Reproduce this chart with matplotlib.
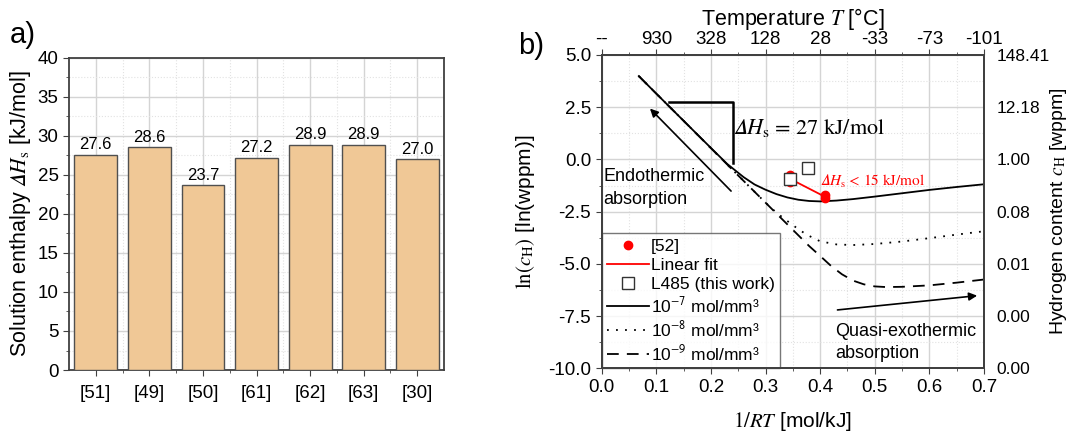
import matplotlib.pyplot as plt
from matplotlib.ticker import MultipleLocator

plt.rcParams['font.family'] = ['Liberation Sans', 'DejaVu Sans']
plt.rcParams['mathtext.fontset'] = 'stix'
plt.rcParams['axes.unicode_minus'] = False

# a) solution enthalpy from literature
refs = ['[51]', '[49]', '[50]', '[61]', '[62]', '[63]', '[30]']
dHs = [27.6, 28.6, 23.7, 27.2, 28.9, 28.9, 27.0]

# b) ln(c_H) vs 1/RT for three trap densities
x_e7 = [0.068, 0.10, 0.15, 0.20, 0.23, 0.26, 0.28, 0.30, 0.32, 0.34, 0.36, 0.38, 0.40,
        0.43, 0.46, 0.50, 0.55, 0.60, 0.65, 0.70]
y_e7 = [3.99, 3.15, 1.85, 0.55, -0.22, -0.85, -1.20, -1.45, -1.66, -1.82, -1.93, -1.99, -2.01,
        -1.97, -1.90, -1.78, -1.62, -1.46, -1.32, -1.19]
x_e8 = [0.068, 0.10, 0.15, 0.20, 0.25, 0.30, 0.32, 0.35, 0.375, 0.40, 0.43, 0.46, 0.50,
        0.55, 0.60, 0.65, 0.70]
y_e8 = [3.99, 3.15, 1.85, 0.54, -0.77, -2.07, -2.55, -3.15, -3.60, -3.92, -4.07, -4.10, -4.05,
        -3.93, -3.77, -3.60, -3.44]
x_e9 = [0.068, 0.10, 0.15, 0.20, 0.25, 0.30, 0.35, 0.38, 0.40, 0.42, 0.44, 0.46, 0.48, 0.50,
        0.52, 0.55, 0.60, 0.65, 0.70]
y_e9 = [3.99, 3.15, 1.85, 0.54, -0.77, -2.07, -3.37, -4.15, -4.62, -5.10, -5.50, -5.80, -5.98,
        -6.08, -6.11, -6.10, -6.03, -5.90, -5.75]

# [52] data, linear fit, own measurement
x_52 = [0.345, 0.345, 0.409, 0.409]
y_52 = [-0.75, -1.10, -1.72, -1.85]
x_fit = [0.345, 0.409]
y_fit = [-0.93, -1.79]
x_l485 = [0.345, 0.378]
y_l485 = [-0.94, -0.42]

top_pos = [0.0, 0.1, 0.2, 0.3, 0.4, 0.5, 0.6, 0.7]
top_labels = ['--', '930', '328', '128', '28', '-33', '-73', '-101']
right_pos = [5.0, 2.5, 0.0, -2.5, -5.0, -7.5, -10.0]
right_labels = ['148.41', '12.18', '1.00', '0.08', '0.01', '0.00', '0.00']

# italic Delta (math italic capital delta)
DH = '$\\mathit{' + '\U0001D6E5' + 'H}_\\mathrm{s}$'

fig = plt.figure(figsize=(10.7, 4.32), dpi=100)
axa = fig.add_axes([0.0645, 0.1435, 0.3505, 0.7225])
axb = fig.add_axes([0.5623, 0.1475, 0.3573, 0.7252])

spine_c = '#404040'

# ---------- panel a
pos = list(range(len(refs)))
axa.bar(pos, dHs, width=0.8, color='#F0C896', edgecolor='#505050', linewidth=1, zorder=3)
for p, v in zip(pos, dHs):
    axa.text(p, v + 0.3, f'{v:.1f}', ha='center', va='bottom', fontsize=12, zorder=4)
axa.set_xlim(-0.5, 6.5)
axa.set_ylim(0, 40)
axa.set_xticks(pos)
axa.set_xticklabels(refs)
axa.set_xticks([p + 0.5 for p in pos[:-1]], minor=True)
axa.yaxis.set_major_locator(MultipleLocator(5))
axa.yaxis.set_minor_locator(MultipleLocator(2.5))
axa.grid(which='major', color='#d4d4d4', linewidth=1, zorder=0)
axa.grid(which='minor', color='#e2e2e2', linewidth=0.8, linestyle=':', zorder=0)
axa.set_axisbelow(True)
axa.tick_params(which='both', direction='out', labelsize=13.5, color=spine_c)
axa.tick_params(which='major', length=4)
axa.tick_params(which='minor', length=2.5)
axa.tick_params(axis='x', pad=7)
axa.set_ylabel('Solution enthalpy ' + DH + ' [kJ/mol]', fontsize=15.5, labelpad=3)
for s in axa.spines.values():
    s.set_color(spine_c)
    s.set_linewidth(1.3)
fig.text(0.009, 0.9, 'a)', fontsize=21)

# ---------- panel b
l7, = axb.plot(x_e7, y_e7, color='black', lw=1.3, label=r'10$^{\mathsf{-7}}$ mol/mm³', zorder=4)
l8, = axb.plot(x_e8, y_e8, color='black', lw=1.3, ls=(0, (1, 4)), label=r'10$^{\mathsf{-8}}$ mol/mm³', zorder=3)
l9, = axb.plot(x_e9, y_e9, color='black', lw=1.3, ls=(0, (6.5, 4.5)), label=r'10$^{\mathsf{-9}}$ mol/mm³', zorder=3)
lfit, = axb.plot(x_fit, y_fit, color='red', lw=1.3, label='Linear fit', zorder=5)
p52, = axb.plot(x_52, y_52, 'o', color='red', ms=6, ls='none', label='[52]', zorder=6)
psq, = axb.plot(x_l485, y_l485, 's', mfc='white', mec='#333333', mew=1, ms=8, ls='none',
                label='L485 (this work)', zorder=7)

# slope bracket
axb.plot([0.1234, 0.2405, 0.2405], [2.74, 2.74, -0.17], color='black', lw=1.8, zorder=4)
axb.text(0.2405, 1.5, DH + ' = 27 kJ/mol', fontsize=16,
         family='STIXGeneral', va='center', ha='left')
axb.annotate('', xy=(0.0849, 2.53), xytext=(0.2405, -1.61),
             arrowprops=dict(arrowstyle='-|>', color='black', lw=1.2, mutation_scale=12))
axb.text(0.003, -0.8, 'Endothermic', fontsize=13, va='center')
axb.text(0.003, -1.9, 'absorption', fontsize=13, va='center')
axb.text(0.40, -1.05, DH + ' < 15 kJ/mol', fontsize=11, color='red',
         family='STIXGeneral', va='center')
axb.annotate('', xy=(0.6926, -6.51), xytext=(0.4267, -7.22),
             arrowprops=dict(arrowstyle='-|>', color='black', lw=1.2, mutation_scale=12))
axb.text(0.427, -8.22, 'Quasi-exothermic', fontsize=13, va='center')
axb.text(0.427, -9.3, 'absorption', fontsize=13, va='center')

axb.set_xlim(0, 0.7)
axb.set_ylim(-10, 5)
axb.xaxis.set_major_locator(MultipleLocator(0.1))
axb.xaxis.set_minor_locator(MultipleLocator(0.05))
axb.yaxis.set_major_locator(MultipleLocator(2.5))
axb.yaxis.set_minor_locator(MultipleLocator(1.25))
axb.xaxis.set_major_formatter(lambda v, p: f'{v:.1f}')
axb.yaxis.set_major_formatter(lambda v, p: f'{v:.1f}')
axb.grid(which='major', color='#d4d4d4', linewidth=1, zorder=0)
axb.grid(which='minor', color='#e2e2e2', linewidth=0.8, linestyle=':', zorder=0)
axb.set_axisbelow(True)
axb.tick_params(which='both', direction='out', labelsize=13.5, color=spine_c)
axb.tick_params(which='major', length=4)
axb.tick_params(which='minor', length=2.5)
axb.set_xlabel(r'$\mathit{1/RT}$ [mol/kJ]', fontsize=15, labelpad=10)
axb.set_ylabel(r'$\mathrm{ln}(c_\mathrm{H})$ [ln(wppm)]', fontsize=15, labelpad=8)
for s in axb.spines.values():
    s.set_color(spine_c)
    s.set_linewidth(1.3)

leg = axb.legend(handles=[p52, lfit, psq, l7, l8, l9], loc='lower left', bbox_to_anchor=(0, 0),
                 borderaxespad=0, fontsize=12.5, frameon=True, fancybox=False, edgecolor='#555555',
                 handlelength=2.4, handletextpad=0.15, labelspacing=0.22, borderpad=0.3)
leg.get_frame().set_linewidth(1)
leg.set_zorder(10)

axt = axb.twiny()
axt.set_xlim(axb.get_xlim())
axt.set_xticks(top_pos)
axt.set_xticklabels(top_labels)
axt.set_xticks([0.05 + 0.1 * i for i in range(7)], minor=True)
axt.tick_params(which='both', direction='out', labelsize=13.5, color=spine_c, pad=1)
axt.tick_params(which='major', length=4)
axt.tick_params(which='minor', length=2.5)
axt.set_xlabel(r'Temperature $\mathit{T}$ [°C]', fontsize=15.5, labelpad=4)

axr = axb.twinx()
axr.set_ylim(axb.get_ylim())
axr.set_yticks(right_pos)
axr.set_yticklabels(right_labels)
axr.tick_params(axis='y', length=0, labelsize=12.5, pad=9)
axr.set_ylabel(r'Hydrogen content $c_\mathrm{H}$ [wppm]', fontsize=14, labelpad=-1)
for ax in (axt, axr):
    for s in ax.spines.values():
        s.set_color(spine_c)
        s.set_linewidth(1.3)

fig.text(0.484, 0.875, 'b)', fontsize=21)

fig.savefig('out.png', dpi=100)
